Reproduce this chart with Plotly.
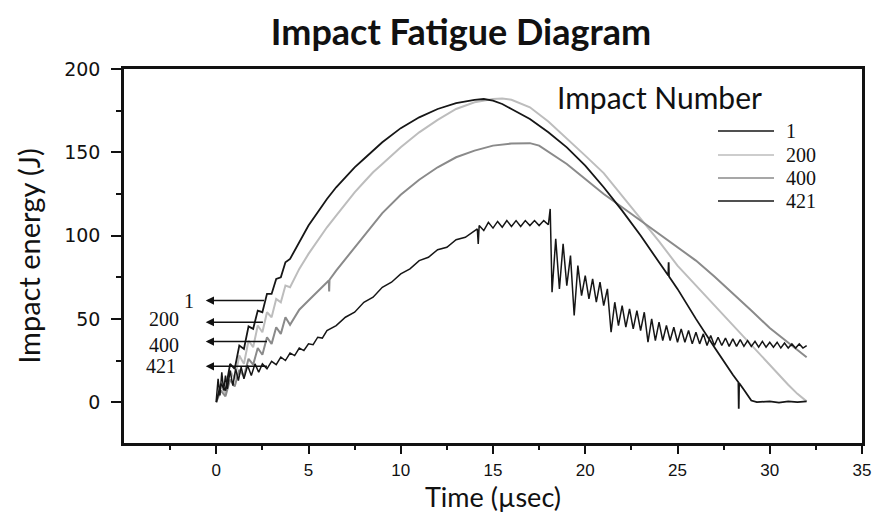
import plotly.graph_objects as go

# ---------------- data ----------------
impact_labels = ["1", "200", "400", "421"]

t_1 = [0, 0.25, 0.5, 0.75, 1, 1.25, 1.5, 1.75, 2, 2.25, 2.5, 2.75, 3, 3.25, 3.5, 3.75, 4,
       4.5, 5, 5.5, 6, 6.5, 7, 7.5, 8, 9, 10, 11, 12, 13, 14, 14.5, 15, 15.5, 16, 17, 18, 19,
       20, 21, 22, 23, 24, 24.5, 24.52, 24.54, 25, 26, 27, 27.5, 28, 28.3, 28.32, 28.34, 28.6,
       29, 29.3, 30, 30.5, 31, 31.5, 32]
e_1 = [0, 11, 7, 23, 20, 34, 32, 45.5, 44, 55, 54, 65, 65, 74, 75, 84, 86,
       96, 106, 114, 122, 129, 135, 141, 146, 156, 164.5, 171, 176, 179.5, 181.5, 182, 181, 179, 176, 170, 162, 153,
       142, 129, 115, 100, 84, 76, 84, 75.5, 68, 50, 33, 24.5, 16.5, 12, -4, 11.5, 7.5,
       1, 0, 0.5, -0.3, 0.5, 0, 0.5]

t_200 = [0, 0.25, 0.5, 0.75, 1, 1.25, 1.5, 1.75, 2, 2.25, 2.5, 2.75, 3, 3.25, 3.5, 3.75, 4,
         4.5, 5, 5.5, 6, 6.5, 7, 7.5, 8, 8.5, 9, 10, 11, 12, 13, 14, 15, 15.5, 16, 17, 18, 19,
         20, 21, 22, 23, 24, 25, 26, 27, 28, 29, 30, 31, 31.5, 32]
e_200 = [0, 10, 5, 19, 14, 28, 23, 37, 33, 46, 42, 54, 51, 62, 60, 70, 69,
         80, 89, 97, 105, 112, 119, 126, 132, 138, 143, 153, 162, 169.5, 176, 180, 182, 182.3, 181.5, 177, 168.5, 158.5,
         148, 137.5, 124, 110.5, 96.5, 82, 70, 58, 46, 34, 22, 10.5, 5, 0.5]

t_400 = [0, 0.25, 0.5, 0.75, 1, 1.25, 1.5, 1.75, 2, 2.25, 2.5, 2.75, 3, 3.25, 3.5, 3.75, 4,
         4.5, 5, 5.5, 6, 6.1, 6.12, 6.14, 6.5, 7, 7.5, 8, 8.5, 9, 10, 11, 12, 13, 14, 15, 16, 17,
         17.5, 18, 19, 20, 21, 22, 23, 24, 25, 26, 27, 28, 29, 30, 31, 32]
e_400 = [0, 7, 3.5, 13.5, 9.5, 19.5, 15.5, 26, 22.5, 32.5, 28.5, 39, 35, 45, 41, 51, 46.5,
         55.5, 61, 66.5, 72, 73, 66.5, 73.5, 79, 86, 93, 100, 107, 113.5, 124.5, 133.5, 141, 147, 151, 154, 155.3, 155.5,
         154, 150.5, 143, 134, 125, 117, 109, 101, 93, 85, 75.5, 65.5, 55, 44.5, 35.5, 27]

t_421 = [0, 0.1, 0.2, 0.3, 0.4, 0.5, 0.6, 0.75, 0.9, 1.05, 1.2, 1.35, 1.5, 1.7, 1.9, 2.1, 2.3, 2.5,
         2.75, 3, 3.25, 3.5, 3.75, 4, 4.25, 4.5, 4.75, 5, 5.25, 5.5, 5.75, 6, 6.5, 7, 7.5, 8, 8.5,
         9, 9.5, 10, 10.5, 11, 11.5, 12, 12.5, 13, 13.5, 14, 14.15, 14.2, 14.25, 14.5, 14.75, 15,
         15.25, 15.5, 15.75, 16, 16.25, 16.5, 16.75, 17, 17.25, 17.5, 17.75, 18, 18.1,
         18.2, 18.4, 18.6, 18.8, 19, 19.2, 19.4, 19.6, 19.8, 20, 20.2, 20.4, 20.6, 20.8, 21,
         21.2, 21.4, 21.6, 21.8, 22, 22.2, 22.4, 22.6, 22.8, 23, 23.2, 23.4, 23.6, 23.8, 24,
         24.2, 24.4, 24.6, 24.8, 25, 25.2, 25.4, 25.6, 25.8, 26, 26.2, 26.4, 26.6, 26.8, 27,
         27.2, 27.4, 27.6, 27.8, 28, 28.2, 28.4, 28.6, 28.8, 29, 29.2, 29.4, 29.6, 29.8, 30,
         30.2, 30.4, 30.6, 30.8, 31, 31.2, 31.4, 31.6, 31.8, 32]
e_421 = [1, 14, 4, 18, 7, 16, 8, 19, 10, 20, 13, 21, 14, 22, 16, 23, 18, 23,
         20, 24.5, 22.5, 27, 25, 29.5, 28, 32.5, 31, 35, 34.5, 39, 38.5, 43, 46, 51, 54, 60, 63,
         69, 72, 77, 80, 85, 87, 91.5, 93, 97.5, 99, 103, 104, 95, 106, 103, 108, 104.5,
         108.5, 105, 109, 105.5, 109, 105.5, 109, 106, 109, 106, 109, 106.5, 116,
         66, 98, 68, 95, 70, 88, 52, 82, 64, 76, 62, 74, 60, 72, 58,
         68, 42, 60, 46, 58, 45, 56, 44, 55, 43, 54, 36, 50, 37, 48,
         37, 46, 37, 45, 36, 44, 36, 43, 35, 42, 35, 41, 34, 40, 34,
         39, 34, 38.5, 33.5, 38, 33.5, 37.5, 33.5, 37, 33.5, 36.5, 33, 36.5, 33, 36,
         33, 36, 32.5, 35.5, 32.5, 35, 32.5, 35, 32.5, 34]

x_tickvals = [0, 5, 10, 15, 20, 25, 30, 35]
y_tickvals = [0, 50, 100, 150, 200]

# arrow pointers on the left (value level, tail time on the curve)
arrow_levels = [61, 48, 36.4, 21.5]
arrow_tails = [2.67, 2.61, 2.83, 2.83]

series = [
    (t_1, e_1, "1", "#161616", 1.8),
    (t_200, e_200, "200", "#bdbdbd", 2.0),
    (t_400, e_400, "400", "#8a8a8a", 2.0),
    (t_421, e_421, "421", "#161616", 1.5),
]
draw_order = [1, 2, 0, 3]

fig = go.Figure()
for i in draw_order:
    t, e, name, col, w = series[i]
    fig.add_trace(go.Scatter(x=t, y=e, mode="lines", name=name,
                             line=dict(color=col, width=w), showlegend=False,
                             hoverinfo="skip"))

# ---------------- layout ----------------
L, R, T, B = 124, 12, 69, 72
W, H = 874, 515
pw, ph = W - L - R, H - T - B


def px_x(p):
    return (p - L) / pw


def px_y(p):
    return (H - B - p) / ph


serif = dict(family="Liberation Serif", size=20, color="#111")
annotations = []
# left arrows
for yv, tail in zip(arrow_levels, arrow_tails):
    annotations.append(dict(x=-0.57, y=yv, ax=tail, ay=yv, xref="x", yref="y",
                            axref="x", ayref="y", text="", showarrow=True,
                            arrowhead=2, arrowsize=1.1, arrowwidth=1.5, arrowcolor="#111",
                            standoff=0, startstandoff=0))
# left labels ("200" and "400" sit tight together, set as one block)
annotations.append(dict(x=-1.12, y=arrow_levels[0], xref="x", yref="y",
                        text=impact_labels[0], showarrow=False, xanchor="right",
                        yanchor="middle", font=serif))
annotations.append(dict(x=-1.92, y=(arrow_levels[1] + arrow_levels[2]) / 2, xref="x", yref="y",
                        text=impact_labels[1] + "<br>" + impact_labels[2], showarrow=False,
                        xanchor="right", yanchor="middle", align="right", font=serif))
annotations.append(dict(x=-2.09, y=arrow_levels[3], xref="x", yref="y",
                        text=impact_labels[3], showarrow=False, xanchor="right",
                        yanchor="middle", font=serif))

# legend drawn as in the reference (long sample lines, serif labels)
legend_rows_px = [131, 155, 178, 201]
shapes = []
for (t, e, name, col, w), rp in zip(series, legend_rows_px):
    shapes.append(dict(type="line", xref="paper", yref="paper",
                       x0=px_x(718), x1=px_x(774), y0=px_y(rp), y1=px_y(rp),
                       line=dict(color=col, width=1.6)))
    annotations.append(dict(x=px_x(784), y=px_y(rp), xref="paper", yref="paper",
                            text=name, showarrow=False, xanchor="left", yanchor="middle",
                            font=serif))

annotations.append(dict(x=px_x(659), y=px_y(97), xref="paper", yref="paper",
                        text="Impact Number", showarrow=False, xanchor="center",
                        yanchor="middle", font=dict(family="Lato", size=30, color="#111")))

fig.update_layout(
    width=W, height=H,
    margin=dict(l=L, r=R, t=T, b=B),
    paper_bgcolor="white", plot_bgcolor="white",
    title=dict(text="<b>Impact Fatigue Diagram</b>", x=461 / W, xref="container",
               xanchor="center", y=1 - 32 / H, yref="container", yanchor="middle",
               font=dict(family="Lato", size=36, color="#111")),
    xaxis=dict(range=[-5, 35], tickvals=x_tickvals, ticks="outside", ticklen=8,
               tickwidth=2, tickcolor="#111", showline=True, linewidth=2.5,
               linecolor="#111", mirror=True, showgrid=False, zeroline=False,
               automargin=False, ticklabelstandoff=2,
               tickfont=dict(family="Liberation Sans", size=17, color="#111"),
               minor=dict(tickvals=[-2.5, 2.5, 7.5, 12.5, 17.5, 22.5, 27.5, 32.5],
                          ticks="outside", ticklen=4, tickwidth=2, tickcolor="#111"),
               title=dict(text="Time (µsec)", standoff=9,
                          font=dict(family="Lato", size=27, color="#111"))),
    yaxis=dict(range=[-24.5, 200], tickvals=y_tickvals, ticks="outside", ticklen=10,
               tickwidth=2, tickcolor="#111", showline=True, linewidth=2.5,
               linecolor="#111", mirror=True, showgrid=False, zeroline=False,
               automargin=False, ticklabelstandoff=7,
               tickfont=dict(family="DejaVu Sans", size=19, color="#111"),
               minor=dict(tickvals=[25, 75, 125, 175], ticks="outside", ticklen=5,
                          tickwidth=2, tickcolor="#111"),
               title=dict(text="Impact energy (J)", standoff=16,
                          font=dict(family="Lato", size=29, color="#111"))),
    shapes=shapes,
    annotations=annotations,
)

# the page's default 8px body margin would shift the whole figure; remove it
fig.write_html("out.html", config={"displayModeBar": False},
               post_script="document.body.style.margin='0';")
